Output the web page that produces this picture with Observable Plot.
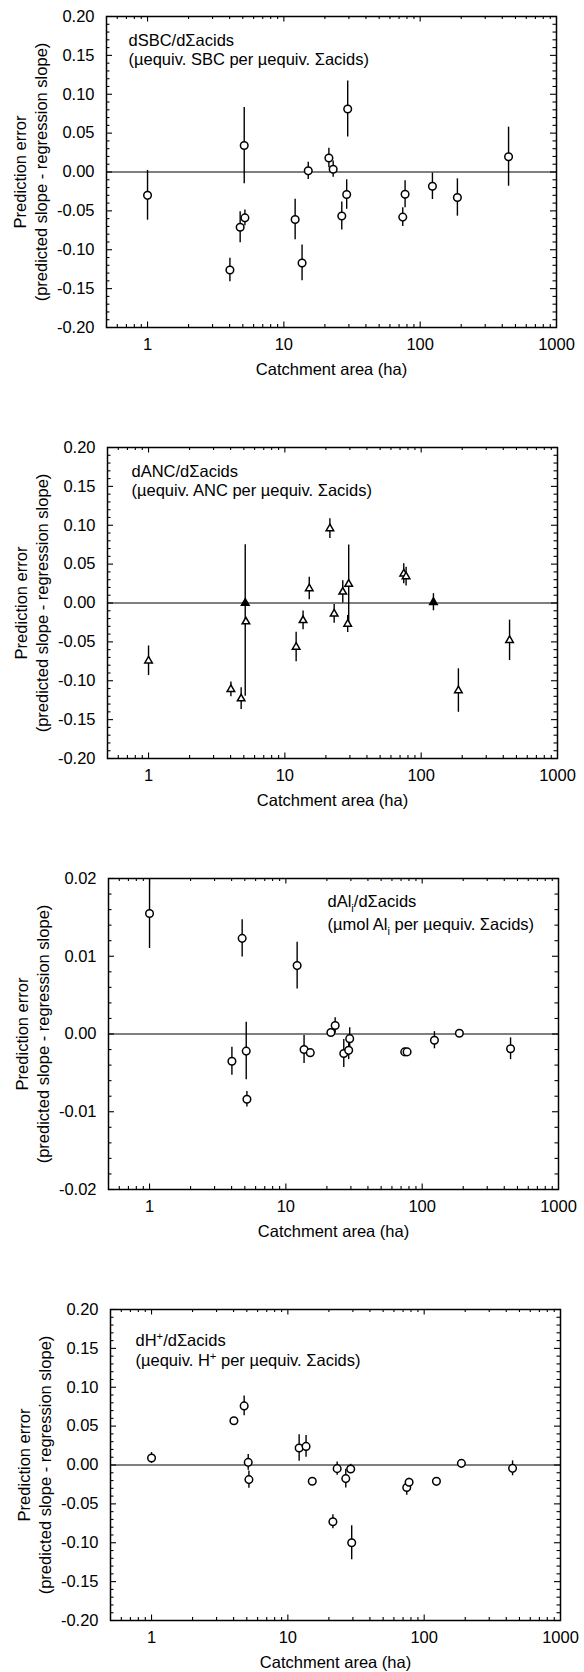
<!DOCTYPE html>
<html><head><meta charset="utf-8">
<script src="https://cdn.jsdelivr.net/npm/d3@7"></script>
<script src="https://cdn.jsdelivr.net/npm/@observablehq/plot@0.6"></script>
<style>
body{margin:0;background:#fff;}
#c{width:584px;}
#c svg{display:block;}
</style></head><body><div id="c"></div>
<script>
// Catchment areas (ha), shared by all four panels
const area = [1, 4.02, 4.78, 5.12, 5.18, 12.1, 13.6, 15.1, 21.4, 23.0, 26.6, 28.9, 29.4, 74.5, 77.5, 123, 187.5, 445];

// Panel 1: dSBC/dΣacids
const sbc    = [-0.030, -0.126, -0.071, 0.034, -0.059, -0.061, -0.117, 0.0015, 0.018, 0.0036, -0.0565, -0.029, 0.081, -0.058, -0.0286, -0.0184, -0.0328, 0.0197];
const sbcErr = [0.032, 0.015, 0.020, 0.049, 0.010, 0.026, 0.023, 0.011, 0.0125, 0.0105, 0.018, 0.019, 0.036, 0.012, 0.0175, 0.017, 0.024, 0.038];

// Panel 2: dANC/dΣacids
const anc       = [-0.0743, -0.111, -0.123, 0.000, -0.024, -0.0566, -0.0224, 0.0186, 0.0958, -0.0139, 0.0143, -0.027, 0.0245, 0.0376, 0.034, 0.001, -0.1126, -0.048];
const ancUp     = [0.019, 0.0095, 0.014, 0.075, 0, 0.019, 0.012, 0.0145, 0.0127, 0.012, 0.0144, 0.011, 0.05, 0.013, 0.012, 0.011, 0.028, 0.026];
const ancDn     = [0.019, 0.0095, 0.014, 0.120, 0, 0.019, 0.012, 0.0145, 0.0127, 0.012, 0.0144, 0.011, 0.05, 0.013, 0.012, 0.011, 0.028, 0.026];
const ancFilled = [0, 0, 0, 1, 0, 0, 0, 0, 0, 0, 0, 0, 0, 0, 0, 1, 0, 0];

// Panel 3: dAl_i/dΣacids
const al    = [0.0155, -0.0035, 0.0123, -0.0022, -0.0084, 0.0088, -0.0020, -0.0024, 0.0002, 0.0011, -0.0025, -0.0021, -0.0006, -0.0023, -0.0023, -0.0008, 0.0001, -0.0019];
const alErr = [0.0045, 0.0018, 0.0024, 0.0037, 0.0010, 0.0030, 0.0018, 0, 0, 0.0010, 0.0018, 0.0012, 0.0014, 0, 0, 0.0011, 0, 0.0014];

// Panel 4: dH+/dΣacids
const hyd    = [0.009, 0.057, 0.076, 0.0034, -0.0188, 0.0218, 0.0239, -0.0209, -0.073, -0.0047, -0.0175, -0.0051, -0.100, -0.029, -0.0222, -0.021, 0.0021, -0.0043];
const hydErr = [0.007, 0, 0.0128, 0.010, 0.011, 0.017, 0.014, 0, 0.009, 0.0085, 0.012, 0.006, 0.022, 0.010, 0.005, 0, 0, 0.0096];

// Tick labels
const yTicks   = [-0.2, -0.15, -0.1, -0.05, 0, 0.05, 0.1, 0.15, 0.2];
const yTicksAl = [-0.02, -0.01, 0, 0.01, 0.02];
const xTicks   = [1, 10, 100, 1000];
const xLabel  = "Catchment area (ha)";
const yLabel1 = "Prediction error";
const yLabel2 = "(predicted slope - regression slope)";

const FS = 16.5;
const W = 450, H = 311;
const xMajor = [1, 10, 100];
const xMinor = [0.6, 0.7, 0.8, 0.9].concat(...[1, 10, 100].map(d => [2,3,4,5,6,7,8,9].map(k => k * d)));

function minors(lo, hi, step, majors) {
  const out = [];
  const n = Math.round((hi - lo) / step);
  for (let i = 1; i < n; i++) {
    const v = +(lo + i * step).toFixed(6);
    if (!majors.some(m => Math.abs(m - v) < step / 10)) out.push(v);
  }
  return out;
}

function rich(svg) {
  for (const t of svg.querySelectorAll("text")) {
    const s = t.textContent;
    if (!/_i|\^\+/.test(s)) continue;
    const parts = s.split(/(_i|\^\+)/);
    while (t.firstChild) t.removeChild(t.firstChild);
    let shift = 0;
    for (const p of parts) {
      if (!p) continue;
      const ts = document.createElementNS("http://www.w3.org/2000/svg", "tspan");
      if (p === "_i" || p === "^+") {
        const d = p === "_i" ? FS * 0.32 : -FS * 0.38;
        ts.setAttribute("dy", d - shift); shift = d;
        ts.setAttribute("font-size", FS * 0.68);
        ts.textContent = p.slice(1);
      } else {
        ts.setAttribute("dy", -shift); shift = 0;
        ts.textContent = p;
      }
      t.appendChild(ts);
    }
  }
}

function panel(o) {
  const rows = area.map((a, i) => ({a, v: o.v[i], lo: o.v[i] - o.dn[i], hi: o.v[i] + o.up[i], f: o.filled ? o.filled[i] : 0}));
  const yMinor = minors(o.domain[0], o.domain[1], o.minorStep, o.ticks);
  const marks = [
    Plot.ruleY([0], {strokeWidth: 1.2}),
    Plot.ruleX(rows.filter(d => d.hi > d.lo), {x: "a", y1: "lo", y2: "hi", strokeWidth: 1.4}),
    Plot.dot(rows.filter(d => !d.f), {x: "a", y: "v", symbol: o.symbol, r: o.r, fill: "white", stroke: "black", strokeWidth: 1.5}),
    Plot.dot(rows.filter(d => d.f), {x: "a", y: "v", symbol: o.symbol, r: o.r, fill: "black", stroke: "black", strokeWidth: 1.5}),
    // inward ticks
    Plot.tickX(xMinor, {x: d => d, insetTop: H - 3, strokeWidth: 1.1}),
    Plot.tickX(xMajor, {x: d => d, insetTop: H - 5.5, strokeWidth: 1.1}),
    Plot.tickX(xMinor, {x: d => d, insetBottom: H - 3, strokeWidth: 1.1}),
    Plot.tickX(xMajor, {x: d => d, insetBottom: H - 5.5, strokeWidth: 1.1}),
    Plot.tickY(yMinor, {y: d => d, insetRight: W - 3.5, strokeWidth: 1.1}),
    Plot.tickY(o.ticks, {y: d => d, insetRight: W - 6, strokeWidth: 1.1}),
    Plot.tickY(yMinor, {y: d => d, insetLeft: W - 3.5, strokeWidth: 1.1}),
    Plot.tickY(o.ticks, {y: d => d, insetLeft: W - 6, strokeWidth: 1.1}),
    Plot.frame({strokeWidth: 1.5}),
    Plot.axisX({ticks: xTicks, tickSize: 0, tickPadding: 11, tickFormat: d => String(d), label: null}),
    Plot.axisY({ticks: o.ticks, tickSize: 0, tickPadding: 12, tickFormat: d => d.toFixed(2), label: null}),
    Plot.text([xLabel], {frameAnchor: "bottom", dy: 42, textAnchor: "middle", lineAnchor: "middle"}),
    Plot.text([yLabel1], {frameAnchor: "left", dx: -86, rotate: -90, textAnchor: "middle", lineAnchor: "middle"}),
    Plot.text([yLabel2], {frameAnchor: "left", dx: -65, rotate: -90, textAnchor: "middle", lineAnchor: "middle"}),
    Plot.text([o.t1], {frameAnchor: "top-left", dx: o.ax, dy: o.ay1, textAnchor: "start", lineAnchor: "middle"}),
    Plot.text([o.t2], {frameAnchor: "top-left", dx: o.ax, dy: o.ay2, textAnchor: "start", lineAnchor: "middle"})
  ];
  const svg = Plot.plot({
    width: 584, height: o.height,
    marginTop: 16, marginBottom: o.height - 16 - H,
    marginLeft: o.ml, marginRight: 584 - o.ml - W,
    style: {fontFamily: "'Liberation Sans', Arial, Helvetica, sans-serif", fontSize: FS + "px", color: "black", background: "white", overflow: "visible"},
    x: {type: "log", domain: [0.5, 1000]},
    y: {domain: o.domain},
    marks
  });
  rich(svg);
  return svg;
}

const c = document.getElementById("c");
c.appendChild(panel({v: sbc, up: sbcErr, dn: sbcErr, symbol: "circle", r: 3.8, domain: [-0.2, 0.2], ticks: yTicks, minorStep: 0.01,
  height: 431, ml: 106, t1: "dSBC/dΣacids", t2: "(µequiv. SBC per µequiv. Σacids)", ax: 22, ay1: 24, ay2: 43}));
c.appendChild(panel({v: anc, up: ancUp, dn: ancDn, filled: ancFilled, symbol: "triangle", r: 2.8, domain: [-0.2, 0.2], ticks: yTicks, minorStep: 0.01,
  height: 431, ml: 107, t1: "dANC/dΣacids", t2: "(µequiv. ANC per µequiv. Σacids)", ax: 24, ay1: 24, ay2: 43}));
c.appendChild(panel({v: al, up: alErr, dn: alErr, symbol: "circle", r: 3.8, domain: [-0.02, 0.02], ticks: yTicksAl, minorStep: 0.002,
  height: 431, ml: 108, t1: "dAl_i/dΣacids", t2: "(µmol Al_i per µequiv. Σacids)", ax: 219, ay1: 23, ay2: 46}));
c.appendChild(panel({v: hyd, up: hydErr, dn: hydErr, symbol: "circle", r: 3.8, domain: [-0.2, 0.2], ticks: yTicks, minorStep: 0.01,
  height: 379, ml: 110, t1: "dH^+/dΣacids", t2: "(µequiv. H^+ per µequiv. Σacids)", ax: 25, ay1: 31, ay2: 51}));
</script>
</body></html>
